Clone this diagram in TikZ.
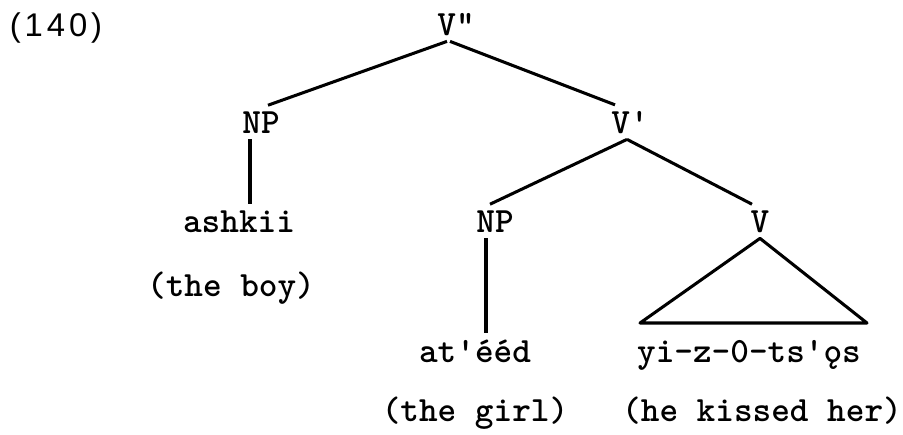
\documentclass[tikz,border=0pt]{standalone}
\usepackage{fontspec}
\newfontfamily\exnumfont[LetterSpace=12]{Liberation Sans}

\begin{document}
\begin{tikzpicture}[x=0.03cm,y=-0.03cm]
\useasboundingbox (0,0) rectangle (903,434);
\node[anchor=base,inner sep=0pt,font=\exnumfont\fontsize{28}{32}\selectfont] (EX) at (56,36) {(140)};

\begin{scope}[every node/.style={anchor=base,inner xsep=0pt,inner ysep=5pt,
              font=\ttfamily\bfseries\fontsize{30.3}{36}\selectfont}]
    \node (V2) at (456,35) {V"};
    \node (NP1) at (261,133) {NP};
    \node (V1) at (630,133) {V\textquotesingle};
    \node (NP2) at (495,232) {NP};
    \node (V0) at (760,232) {V};
    \node (boy) at (239,232) {ashkii};
    \node (boyG) at (231,296) {(the boy)};
    \node (girl) at (475,362) {at\textquotesingle ééd};
    \node (girlG) at (475,421) {(the girl)};
    \node (kiss) at (749,362) {yi-z-0-ts\textquotesingle ǫs};
    \node (kissG) at (762,421) {(he kissed her)};
\end{scope}

\coordinate (triL) at (640,323);
\coordinate (triR) at (867,323);

\begin{scope}[every edge/.style={draw,line width=2.6pt}]
    \path ([xshift=-0.27cm]V2.south) edge ([xshift=0.21cm]NP1.north);
    \path ([xshift=-0.18cm]V2.south) edge ([xshift=-0.45cm]V1.north);
    \path ([xshift=-0.09cm]V1.south) edge ([xshift=-0.15cm]NP2.north);
    \path ([xshift=-0.09cm]V1.south) edge ([xshift=-0.24cm]V0.north);
    \path ([xshift=-0.33cm]NP1.south) edge ([xshift=-0.33cm]NP1.south |- boy.north);
    \path ([xshift=-0.27cm]NP2.south) edge ([xshift=-0.27cm]NP2.south |- girl.north);
\end{scope}
\draw[line width=2.6pt,line join=round] (V0.south) -- (triL) -- (triR) -- cycle;
\end{tikzpicture}
\end{document}
